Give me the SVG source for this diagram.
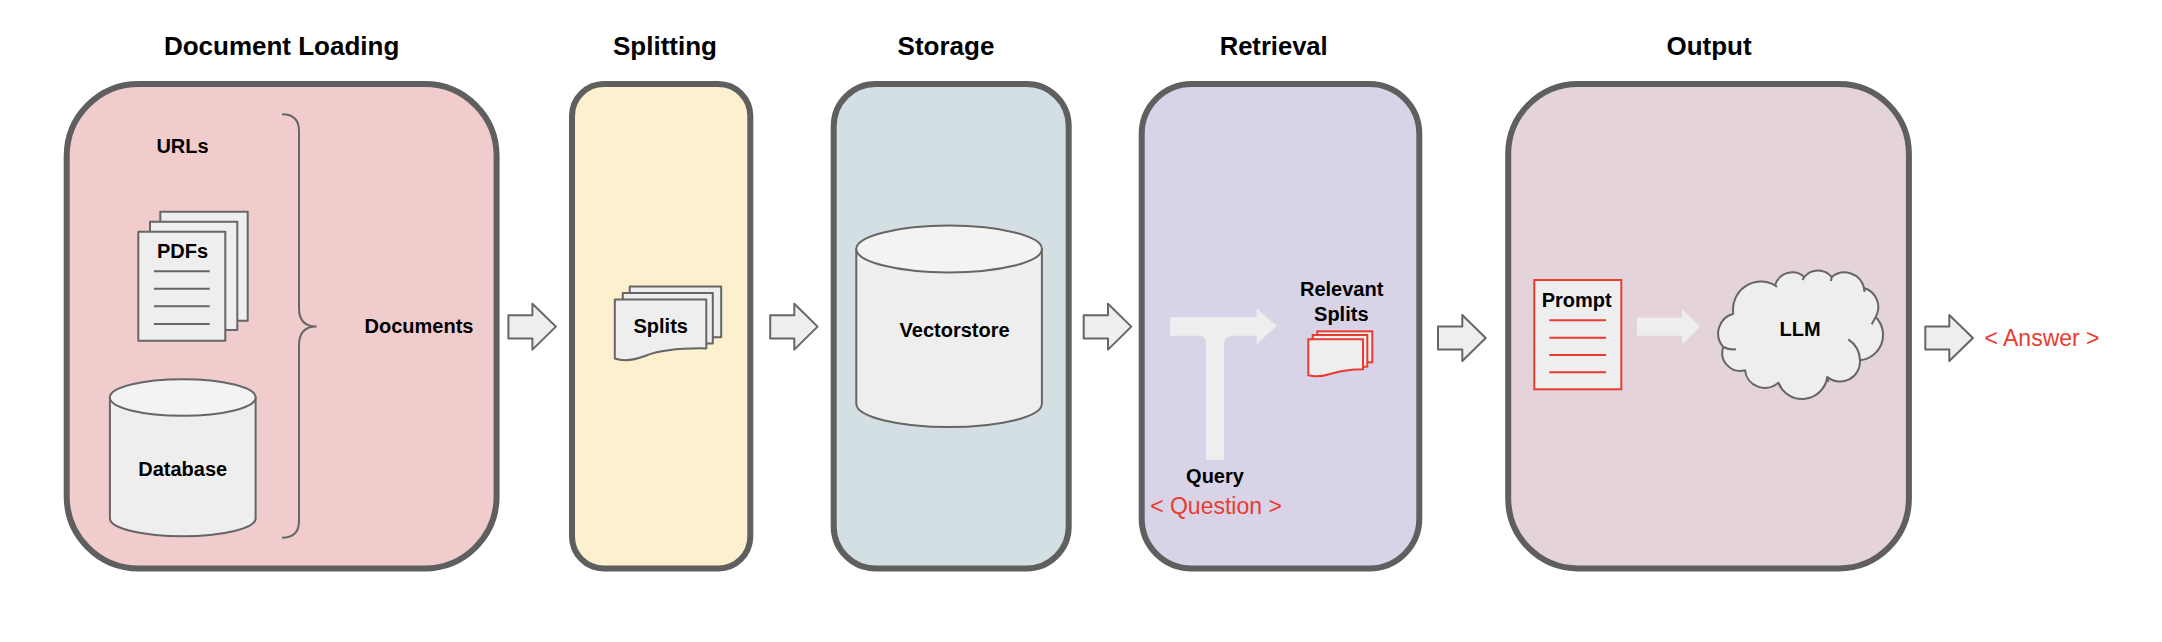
<svg xmlns="http://www.w3.org/2000/svg" width="2162" height="642" viewBox="0 0 2162 642">
<style>
text{font-family:"Liberation Sans",Arial,sans-serif;text-anchor:middle;fill:#000}
.title{font-size:26px;font-weight:700}
.lab{font-size:20px;font-weight:700}
text.red{font-size:23px;fill:#e93c30}
.panel{stroke:#5f5f5f;stroke-width:6}
.shape{fill:#eee;stroke:#666;stroke-width:2;stroke-linejoin:round}
.top{fill:#f3f3f3;stroke:#666;stroke-width:2}
.line{fill:none;stroke:#666;stroke-width:2}
.rshape{fill:#eee;stroke:#e93c30;stroke-width:2}
.rline{fill:none;stroke:#e93c30;stroke-width:2}
.flow{fill:#eee}
</style>
<rect width="2162" height="642" fill="#fff"/>
<g id="document-loading">
<rect class="panel" x="66.7" y="84" width="429.9" height="484.4" rx="72" fill="#f0cccc"/>
<text class="title" x="281.6" y="54.5">Document Loading</text>
<text class="lab" x="182.5" y="153.3">URLs</text>
<path id="documents-brace" class="line" d="M282 114.3C293 114.3 299 120 299 131V308C299 320 305 326.5 316.5 326.5C305 326.5 299 333 299 345V521C299 532 293 537.7 282 537.7"/>
<text class="lab" x="419" y="333">Documents</text>
</g>
<g id="pdfs">
<rect class="shape" x="160.3" y="211.7" width="87.4" height="109"/>
<rect class="shape" x="150" y="221.7" width="87.3" height="108.3"/>
<rect class="shape" x="138.3" y="231.7" width="87" height="109"/>
<text class="lab" x="182.5" y="257.7">PDFs</text>
<path class="line" d="M154 271.3H209.7M154 288.7H209.7M154 306.3H209.7M154 324H209.7"/>
</g>
<g id="database">
<path class="shape" d="M109.9 397.5V519A72.9 18 0 0 0 255.6 519V397.5Z"/>
<ellipse class="top" cx="182.7" cy="397.5" rx="72.9" ry="18.3"/>
<text class="lab" x="182.7" y="476">Database</text>
</g>
<g id="splitting">
<rect class="panel" x="572" y="84" width="178.3" height="484.4" rx="32" fill="#fcf0ce"/>
<text class="title" x="665" y="54.5">Splitting</text>
</g>
<g id="splits">
<rect class="shape" x="629.7" y="286.5" width="91.5" height="50.8"/>
<rect class="shape" x="622.8" y="293" width="90" height="50.4"/>
<path class="shape" d="M614.8 299.6H706.3V348.4C680 348 660 350 645 356C632 361 622 361 614.8 358.5Z"/>
<text class="lab" x="660.7" y="333">Splits</text>
</g>
<g id="storage">
<rect class="panel" x="833.7" y="84" width="235" height="484.4" rx="42" fill="#d4dfe3"/>
<text class="title" x="946" y="54.5">Storage</text>
</g>
<g id="vectorstore">
<path class="shape" d="M856.3 249V403.7A92.8 23.4 0 0 0 1041.9 403.7V249Z"/>
<ellipse class="top" cx="949.1" cy="249" rx="92.8" ry="23.4"/>
<text class="lab" x="954.6" y="337">Vectorstore</text>
</g>
<g id="retrieval">
<rect class="panel" x="1141.7" y="84" width="277.6" height="484.4" rx="50" fill="#d8d3e6"/>
<text class="title" x="1273.7" y="54.5" textLength="108" lengthAdjust="spacingAndGlyphs">Retrieval</text>
<text class="lab" x="1215" y="482.8">Query</text>
<text class="red" x="1216" y="514.3">&lt; Question &gt;</text>
</g>
<g id="relevant-splits">
<text class="lab" x="1341.7" y="296">Relevant</text>
<text class="lab" x="1341.3" y="321">Splits</text>
<rect class="rshape" x="1317.3" y="331.3" width="55" height="31"/>
<rect class="rshape" x="1312.7" y="335" width="54.6" height="31.7"/>
<path class="rshape" d="M1308.3 339.3H1363V369.3C1348 369.5 1340 371 1332 373.5C1323 376.5 1316 377 1308.3 375.3Z"/>
</g>
<g id="output">
<rect class="panel" x="1508.2" y="84" width="400.7" height="484.4" rx="70" fill="#e5d3dc"/>
<text class="title" x="1709" y="54.5">Output</text>
</g>
<g id="prompt">
<rect class="rshape" x="1534.3" y="280" width="87" height="109.3"/>
<text class="lab" x="1576.7" y="306.7">Prompt</text>
<path class="rline" d="M1549.3 320.3H1606M1549.3 337.7H1606M1549.3 355H1606M1549.3 372.3H1606"/>
</g>
<g id="llm">
<path class="shape" d="M1733.3 313.7A28 28 0 0 1 1775 285.3A18 18 0 0 1 1804.3 277A17.5 17.5 0 0 1 1831.7 277A20 20 0 0 1 1864 288A20 20 0 0 1 1875.7 317A25.5 25.5 0 0 1 1860 360.3A20 20 0 0 1 1827.3 377A25.5 25.5 0 0 1 1778.3 382.7A20 20 0 0 1 1745 370.3A18 18 0 0 1 1723.3 347A20.5 20.5 0 0 1 1733.3 313.7Z"/>
<path class="line" d="M1848.3 339.3A26 26 0 0 1 1860 360.3M1871.7 324.3L1875.7 317M1723.3 347Q1729 350 1736 349.3M1775 285.3L1777 287M1804.3 277L1802.5 280M1831.7 277L1831 281M1864 288L1864.5 292M1827.3 377L1828.5 382M1778.3 382.7L1781 387"/>
<text class="lab" x="1800" y="336">LLM</text>
</g>
<text id="answer" class="red" x="2042" y="346.3">&lt; Answer &gt;</text>
<g id="connectors">
<path class="shape" d="M508.4 315.2H532.4V303.7L555.9 326.6L532.4 349.6V338.5H508.4Z"/>
<path class="shape" d="M770.2 315.2H794.3V303.7L817.6 326.6L794.3 349.6V338.5H770.2Z"/>
<path class="shape" d="M1083.7 315.2H1108V303.7L1131.3 326.6L1108 349.6V338.5H1083.7Z"/>
<path class="shape" d="M1438 326.6H1462.3V315L1485.7 338L1462.3 361V349.6H1438Z"/>
<path class="shape" d="M1925.3 326.6H1949.3V315L1972.9 338L1949.3 361V349.6H1925.3Z"/>
<path class="flow" d="M1170 317.3H1256.7V308.3L1276.7 326L1256.7 344.3V335.7H1233Q1224 336 1224 345V460H1206V345Q1206 336 1200 335.7H1170Z"/>
<path class="flow" d="M1637 317.7H1682V309.3L1700 326.7L1682 344.7V335.7H1637Z"/>
</g>
</svg>
